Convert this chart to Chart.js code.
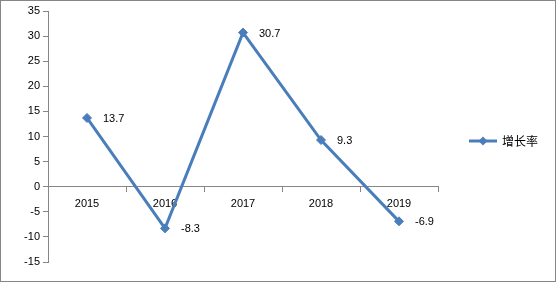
<!DOCTYPE html>
<html>
<head>
<meta charset="utf-8">
<script src="https://cdn.jsdelivr.net/npm/chart.js@4"></script>
<style>
  html, body { margin: 0; padding: 0; background: #fff; }
  #wrap { width: 556px; height: 282px; position: relative; }
</style>
</head>
<body>
<div id="wrap"><canvas id="growthChart" width="556" height="282"></canvas></div>
<script>
const years = ['2015', '2016', '2017', '2018', '2019'];
const growthRate = [13.7, -8.3, 30.7, 9.3, -6.9];
const seriesName = '增长率';
const yTicks = [-15, -10, -5, 0, 5, 10, 15, 20, 25, 30, 35];

const lineColor = '#4A7EBB';
const axisColor = '#868686';
const fontFamily = "'Liberation Sans', Arial, sans-serif";

// Data labels to the right of each point
const valueLabels = {
  id: 'valueLabels',
  afterDatasetsDraw(chart) {
    const ctx = chart.ctx;
    const meta = chart.getDatasetMeta(0);
    ctx.save();
    ctx.font = '11px ' + fontFamily;
    ctx.fillStyle = '#000';
    ctx.textAlign = 'left';
    ctx.textBaseline = 'middle';
    meta.data.forEach((pt, i) => {
      ctx.fillText(growthRate[i].toFixed(1), pt.x + 16, pt.y + 1);
    });
    ctx.restore();
  }
};

// Legend on the right + outer frame
const sideLegend = {
  id: 'sideLegend',
  afterDraw(chart) {
    const ctx = chart.ctx;
    const y = 141;
    ctx.save();
    ctx.strokeStyle = lineColor;
    ctx.lineWidth = 3;
    ctx.beginPath();
    ctx.moveTo(469, y);
    ctx.lineTo(497, y);
    ctx.stroke();
    ctx.fillStyle = lineColor;
    ctx.beginPath();
    ctx.moveTo(483, y - 4.5);
    ctx.lineTo(487.5, y);
    ctx.lineTo(483, y + 4.5);
    ctx.lineTo(478.5, y);
    ctx.closePath();
    ctx.fill();
    ctx.fillStyle = '#000';
    ctx.font = "12px 'Noto Sans CJK SC', sans-serif";
    ctx.textAlign = 'left';
    ctx.textBaseline = 'middle';
    ctx.fillText(seriesName, 502, y);

    ctx.strokeStyle = axisColor;
    ctx.lineWidth = 1;
    ctx.strokeRect(0.5, 0.5, 555, 281);
    ctx.restore();
  }
};

const ctx = document.getElementById('growthChart').getContext('2d');
new Chart(ctx, {
  type: 'line',
  data: {
    labels: years,
    datasets: [{
      label: seriesName,
      data: growthRate,
      borderColor: lineColor,
      backgroundColor: lineColor,
      borderWidth: 3,
      pointStyle: 'rectRot',
      pointRadius: 4.5,
      pointBorderWidth: 1,
      pointHoverRadius: 4.5,
      tension: 0
    }]
  },
  options: {
    responsive: false,
    animation: false,
    layout: { padding: { top: 11, bottom: 20, right: 118, left: 0 } },
    plugins: {
      legend: { display: false },
      tooltip: { enabled: false }
    },
    scales: {
      x: {
        type: 'category',
        position: { y: 0 },
        offset: true,
        border: { color: axisColor, width: 1 },
        grid: {
          offset: true,
          drawOnChartArea: false,
          drawTicks: true,
          tickLength: 5,
          color: axisColor
        },
        ticks: {
          color: '#000',
          font: { family: fontFamily, size: 11 },
          padding: 6,
          maxRotation: 0
        }
      },
      y: {
        min: -15,
        max: 35,
        afterBuildTicks(scale) {
          scale.ticks = yTicks.map(v => ({ value: v }));
        },
        afterFit(scale) { scale.width = 48; },
        border: { color: axisColor, width: 1 },
        grid: {
          drawOnChartArea: false,
          drawTicks: true,
          tickLength: 5,
          color: axisColor
        },
        ticks: {
          color: '#000',
          font: { family: fontFamily, size: 11 },
          padding: 3
        }
      }
    }
  },
  plugins: [valueLabels, sideLegend]
});
</script>
</body>
</html>
